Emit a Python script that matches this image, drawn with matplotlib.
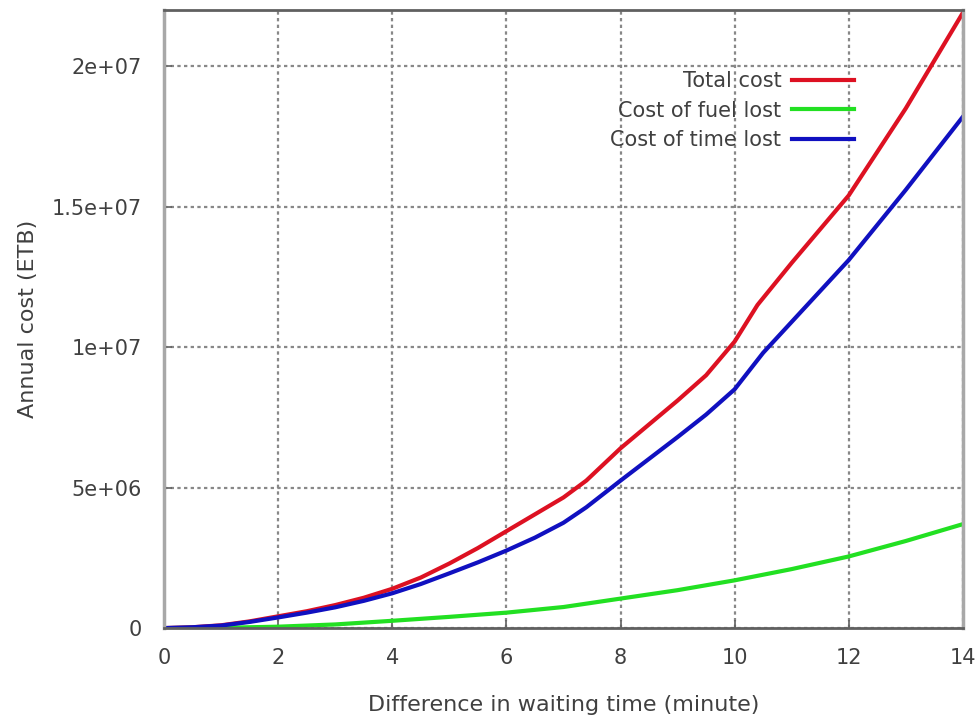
import matplotlib
matplotlib.use("Agg")
import matplotlib.pyplot as plt
from matplotlib.ticker import FuncFormatter

# waiting time difference (minute) and annual costs (ETB)
wait_total = [0, 0.5, 1, 1.5, 2, 2.5, 3, 3.5, 4, 4.5, 5, 5.5, 6, 6.5, 7, 7.4,
              8, 9, 9.5, 10, 10.4, 11, 12, 13, 14]
total_cost = [0, 0.03e6, 0.1e6, 0.24e6, 0.42e6, 0.6e6, 0.82e6, 1.08e6, 1.4e6,
              1.8e6, 2.3e6, 2.85e6, 3.45e6, 4.05e6, 4.65e6, 5.25e6,
              6.4e6, 8.1e6, 9.0e6, 10.2e6, 11.5e6, 13.0e6, 15.4e6, 18.5e6, 21.9e6]

wait_fuel = [0, 1, 2, 3, 4, 5, 6, 7, 8, 9, 10, 11, 12, 13, 14]
fuel_cost = [0, 0.01e6, 0.05e6, 0.13e6, 0.26e6, 0.4e6, 0.55e6, 0.75e6, 1.05e6,
             1.35e6, 1.7e6, 2.1e6, 2.55e6, 3.1e6, 3.7e6]

wait_time = [0, 0.5, 1, 1.5, 2, 2.5, 3, 3.5, 4, 4.5, 5, 5.5, 6, 6.5, 7, 7.4,
             8, 9, 9.5, 10, 10.5, 11, 12, 13, 14]
time_cost = [0, 0.03e6, 0.09e6, 0.22e6, 0.38e6, 0.55e6, 0.74e6, 0.97e6, 1.24e6,
             1.57e6, 1.95e6, 2.34e6, 2.76e6, 3.22e6, 3.75e6, 4.3e6,
             5.25e6, 6.8e6, 7.6e6, 8.5e6, 9.8e6, 10.9e6, 13.1e6, 15.6e6, 18.2e6]

x_ticks = [0, 2, 4, 6, 8, 10, 12, 14]
y_ticks = [0, 5e6, 1e7, 1.5e7, 2e7]
y_labels = ["0", "5e+06", "1e+07", "1.5e+07", "2e+07"]

txt = "#404040"
fig = plt.figure(figsize=(9.77, 7.17), dpi=100)
ax = fig.add_axes([0.168, 0.124, 0.8175, 0.862])

ax.plot(wait_total, total_cost, color="#dd1122", lw=3, label="Total cost")
ax.plot(wait_fuel, fuel_cost, color="#22e022", lw=3, label="Cost of fuel lost")
ax.plot(wait_time, time_cost, color="#1010c0", lw=3, label="Cost of time lost")

ax.set_xlim(0, 14)
ax.set_ylim(0, 2.2e7)
ax.set_xticks(x_ticks)
ax.set_yticks(y_ticks)
ax.yaxis.set_major_formatter(FuncFormatter(lambda v, p: y_labels[y_ticks.index(v)] if v in y_ticks else ""))

ax.grid(True, color="#888888", lw=1.6, linestyle=(0, (1.5, 1.5)))
ax.set_axisbelow(True)
for side in ["left", "right"]:
    ax.spines[side].set_color("#a8a8a8")
    ax.spines[side].set_linewidth(2.5)
for side in ["top", "bottom"]:
    ax.spines[side].set_color("#606060")
    ax.spines[side].set_linewidth(2)

ax.tick_params(direction="in", length=6, width=1.2, color="#606060",
               labelsize=15, labelcolor=txt, pad=16)
ax.tick_params(axis="x", pad=14)

ax.set_xlabel("Difference in waiting time (minute)", fontsize=16, color=txt, labelpad=20)
ax.set_ylabel("Annual cost (ETB)", fontsize=16, color=txt, labelpad=10)

ax.legend(loc="upper right", bbox_to_anchor=(0.877, 0.918), frameon=False,
          markerfirst=False, fontsize=15, labelcolor=txt, handlelength=3.0,
          handletextpad=0.5, labelspacing=0.45, borderpad=0)

fig.savefig("out.png", dpi=100)
